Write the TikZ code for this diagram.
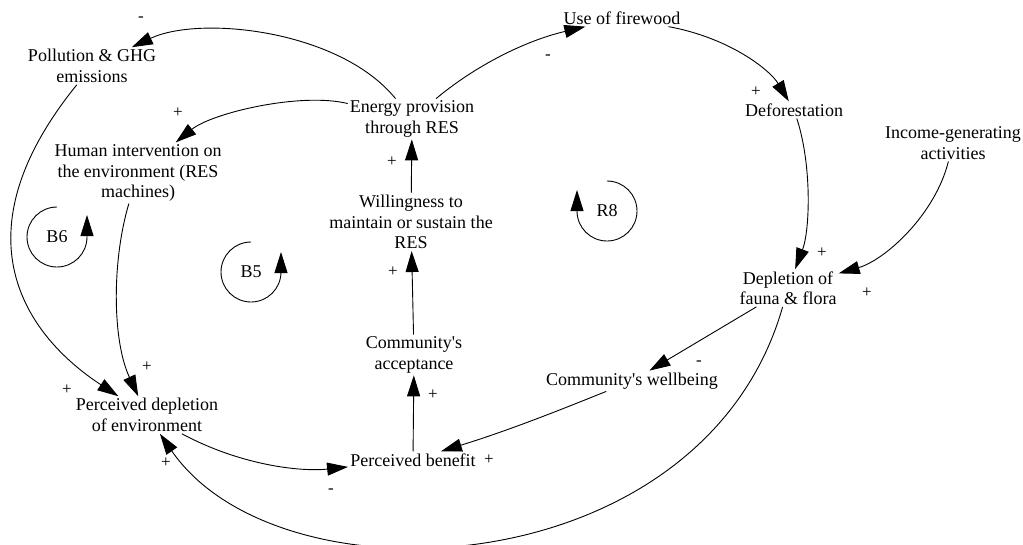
\documentclass[tikz,border=0pt]{standalone}
\usepackage{fontspec}
\setmainfont{Liberation Serif}
\usetikzlibrary{arrows.meta}
\tikzset{
  var/.style={align=center, inner sep=2pt, font=\fontsize{18}{20.5}\selectfont},
  sgn/.style={inner sep=0pt, font=\fontsize{17}{17}\selectfont},
  arr/.style={line width=0.9pt, -{Triangle[length=21pt,width=13pt]}},
  loopline/.style={line width=0.9pt, -{Triangle[length=21pt,width=13pt]}},
}
\newcommand{\apos}{\textquotesingle}
\begin{document}
\begin{tikzpicture}[x=1pt,y=-1pt]
\useasboundingbox (0,0) rectangle (1023,544);

% variables
\node[var] (poll)   at (92,66)   {Pollution \& GHG\\emissions};
\node[var] (human)  at (138,173) {Human intervention on\\the environment (RES\\machines)};
\node[var] (energy) at (412,119) {Energy provision\\through RES};
\node[var] (fire)   at (622,18)  {Use of firewood};
\node[var] (defor)  at (794,110) {Deforestation};
\node[var] (income) at (953,143) {Income-generating\\activities};
\node[var] (will)   at (411,222) {Willingness to\\maintain or sustain the\\RES};
\node[var] (depl)   at (788,288) {Depletion of\\fauna \& flora};
\node[var] (acc)    at (414,355) {Community\apos s\\acceptance};
\node[var] (well)   at (632,381) {Community\apos s wellbeing};
\node[var] (perc)   at (147,415) {Perceived depletion\\of environment};
\node[var] (ben)    at (413,460) {Perceived benefit};

% loop markers
\node[var] (b6) at (57,237)  {B6};
\node[var] (b5) at (251,272) {B5};
\node[var] (r8) at (607,211) {R8};
\draw[loopline] ([yshift=30pt]b6.center) arc[start angle=90, end angle=360, radius=30pt] -- ++(0,-22);
\draw[loopline] ([yshift=30pt]b5.center) arc[start angle=90, end angle=360, radius=30pt] -- ++(0,-20);
\draw[loopline] ([yshift=30pt]r8.center) arc[start angle=90, end angle=-180, radius=30pt] -- ++(0,-21);

% causal links
\draw[arr] (energy) .. controls (340,30) and (200,15) .. (poll);
\draw[arr] (energy) .. controls (300,92) and (212,113) .. (human);
\draw[arr] (energy) .. controls (470,70) and (520,42) .. (fire);
\draw[arr] (fire) .. controls (730,38) and (770,70) .. (defor);
\draw[arr] (defor) .. controls (812,165) and (810,230) .. (depl);
\draw[arr] (income) .. controls (935,215) and (885,260) .. (depl);
\draw[arr] (will) -- (energy);
\draw[arr] (acc) -- (will);
\draw[arr] (ben) -- (acc);
\draw[arr] (depl) -- (well);
\draw[arr] (well) .. controls (560,410) and (510,430) .. (ben);
\draw[arr] (depl) .. controls (703,586) and (280,608) .. (perc);
\draw[arr] (perc) .. controls (240,465) and (300,472) .. (ben);
\draw[arr] (poll) .. controls (-45,235) and (25,335) .. (perc);
\draw[arr] (human) .. controls (112,260) and (112,340) .. (perc);

% polarities
\node[sgn] (s1)  at (141,19)  {-};
\node[sgn] (s2)  at (178,113) {+};
\node[sgn] (s3)  at (392,162) {+};
\node[sgn] (s4)  at (393,272) {+};
\node[sgn] (s5)  at (548,57)  {-};
\node[sgn] (s6)  at (756,92)  {+};
\node[sgn] (s7)  at (822,253) {+};
\node[sgn] (s8)  at (867,293) {+};
\node[sgn] (s9)  at (699,363) {-};
\node[sgn] (s10) at (67,390)  {+};
\node[sgn] (s11) at (147,367) {+};
\node[sgn] (s12) at (166,463) {+};
\node[sgn] (s13) at (331,491) {-};
\node[sgn] (s14) at (433,395) {+};
\node[sgn] (s15) at (489,460) {+};
\end{tikzpicture}
\end{document}
